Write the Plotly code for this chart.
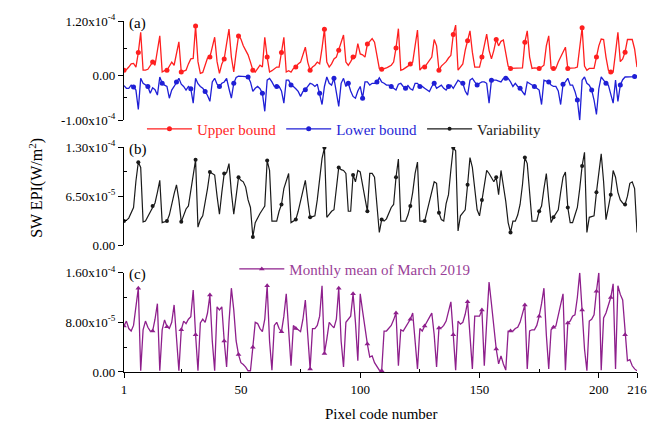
import plotly.graph_objects as go

# Values in units of 1e-5 W/m^2, pixel code 1..216
upper_bound = [
    1.1, 1.2, 1.8, 2.5, 2.6, 1.8, 5.0, 9.5, 1.1, 1.1,
    1.3, 2.0, 2.9, 2.2, 5.0, 8.7, 0.7, 1.0, 1.1, 2.0,
    2.9, 2.2, 5.0, 7.4, 0.7, 0.9, 1.1, 2.5, 3.6, 3.7,
    10.9, 3.0, 0.4, 0.6, 2.0, 3.8, 4.0, 6.0, 8.4, 3.0,
    0.4, 2.5, 3.6, 7.0, 10.2, 4.0, 0.7, 5.0, 8.7, 8.0,
    6.5, 5.5, 4.5, 2.9, 1.1, 0.7, 1.5, 2.2, 1.8, 8.4,
    4.0, 0.7, 1.0, 1.5, 1.8, 1.8, 5.0, 8.4, 0.7, 1.0,
    0.7, 1.5, 1.8, 2.5, 2.9, 4.5, 6.2, 2.9, 1.1, 1.8,
    2.2, 2.9, 2.5, 6.0, 10.2, 2.9, 1.8, 2.5, 3.6, 4.0,
    5.5, 7.5, 8.9, 2.9, 2.2, 3.0, 4.0, 4.0, 7.0, 4.7,
    4.5, 4.0, 6.9, 7.5, 8.1, 7.3, 4.0, 1.5, 1.3, 1.4,
    1.6, 1.9, 2.2, 2.9, 6.0, 10.3, 1.1, 1.3, 1.6, 2.0,
    2.5, 2.9, 6.5, 10.0, 1.1, 1.8, 1.8, 2.5, 3.3, 4.0,
    7.9, 6.5, 1.1, 2.0, 2.5, 3.0, 3.8, 4.4, 9.0, 11.1,
    1.1, 1.8, 2.5, 5.5, 7.6, 9.8, 5.1, 1.8, 1.8, 1.8,
    4.0, 6.5, 9.1, 5.5, 3.6, 5.5, 7.9, 6.5, 7.5, 7.8,
    5.1, 2.0, 1.5, 1.5, 1.5, 1.5, 1.5, 1.6, 7.3, 9.8,
    4.0, 1.5, 1.6, 1.5, 1.5, 1.8, 2.2, 6.5, 8.7, 1.5,
    1.5, 1.5, 2.9, 4.0, 5.1, 6.2, 1.5, 1.5, 1.5, 1.6,
    1.8, 6.0, 10.5, 2.0, 1.1, 1.5, 1.5, 1.5, 4.0, 6.5,
    8.0, 7.9, 4.0, 1.1, 0.7, 0.7, 5.0, 9.5, 3.0, 3.6,
    5.1, 7.9, 7.9, 7.9, 5.8, 1.8,
]

lower_bound = [
    -2.3, -2.9, -2.9, -2.2, -2.6, -3.3, -7.6, -0.7, -1.8, -2.2,
    -2.5, -4.0, -2.8, -3.2, -4.4, -0.4, -1.8, -2.2, -2.5, -5.1,
    -3.3, -2.5, -1.5, -0.7, -2.0, -2.5, -3.3, -2.5, -3.0, -6.2,
    -0.7, -1.9, -2.5, -2.9, -3.6, -4.5, -5.8, -1.5, -0.7, -2.0,
    -2.5, -1.8, -1.5, -0.7, -3.0, -5.1, -1.8, -0.5, -0.2, -0.2,
    -0.2, -0.3, -0.4, -1.5, -3.6, -2.9, -2.5, -3.0, -4.0, -8.0,
    -1.1, -0.7, -1.5, -2.5, -2.5, -2.5, -3.5, -6.2, -1.1, -1.1,
    -2.2, -2.5, -3.0, -3.6, -4.7, -3.6, -3.2, -2.5, -1.8, -2.0,
    -2.5, -2.0, -4.0, -6.5, -2.5, -0.4, -1.8, -2.2, -0.7, -3.6,
    -6.9, -1.8, -0.7, -2.5, -1.8, -3.5, -4.7, -5.1, -3.5, -2.5,
    -5.1, -1.5, -1.5, -2.2, -1.8, -1.8, -1.5, -0.6, -1.5, -1.8,
    -2.2, -2.2, -2.5, -2.9, -3.3, -2.0, -1.8, -2.5, -2.9, -2.3,
    -3.0, -3.3, -1.8, -1.8, -2.5, -2.5, -2.9, -3.3, -3.6, -2.5,
    -1.8, -2.9, -2.5, -2.2, -2.9, -3.3, -2.5, -2.2, -2.9, -2.0,
    -1.1, -1.5, -1.8, -3.5, -4.4, -1.1, -0.7, -1.5, -2.2, -1.8,
    -1.5, -1.5, -1.8, -6.2, -1.1, -1.1, -1.1, -1.3, -1.5, -0.7,
    -0.7, -0.7, -1.5, -2.5, -1.8, -2.5, -2.9, -3.6, -4.4, -1.5,
    -1.8, -2.2, -2.5, -2.9, -3.3, -6.5, -1.1, -1.3, -1.5, -2.2,
    -2.5, -2.5, -3.5, -6.5, -2.0, -1.5, -0.7, -2.2, -2.2, -3.6,
    -5.5, -10.0, -1.1, -0.4, -1.8, -2.2, -3.3, -5.5, -8.7, -3.0,
    -0.4, -1.1, -1.8, -2.2, -4.0, -6.2, -1.1, -5.8, -2.2, -1.0,
    -0.4, -0.4, -0.4, -0.4, -0.3, -0.2,
]

variability = [
    3.2, 3.3, 3.6, 4.3, 5.0, 8.5, 11.0, 10.3, 3.1, 3.2,
    3.8, 4.5, 5.2, 5.6, 7.0, 8.6, 3.0, 3.1, 3.2, 4.0,
    5.6, 6.8, 8.0, 6.0, 3.1, 4.0, 4.8, 5.2, 7.1, 9.0,
    11.3, 2.4, 3.4, 3.9, 5.5, 7.5, 9.7, 9.5, 9.3, 6.5,
    4.1, 7.0, 9.5, 9.6, 10.8, 7.0, 4.1, 6.5, 9.0, 8.6,
    8.4, 7.7, 6.0, 5.0, 1.1, 3.0, 3.7, 4.2, 4.7, 5.2,
    11.2, 9.9, 3.2, 3.2, 3.2, 4.5, 5.4, 7.5, 8.5, 9.5,
    3.0, 3.2, 3.4, 4.5, 6.0, 7.5, 8.6, 6.0, 3.7, 3.8,
    3.9, 6.0, 9.0, 11.5, 12.9, 3.7, 4.1, 4.5, 4.7, 7.5,
    10.3, 10.0, 9.9, 9.5, 4.5, 4.5, 9.3, 8.4, 9.9, 9.7,
    8.0, 6.0, 4.5, 9.5, 9.5, 9.0, 5.0, 1.7, 3.4, 3.2,
    3.5, 4.3, 5.0, 5.4, 9.0, 11.4, 3.2, 3.2, 3.2, 4.0,
    5.2, 7.0, 9.5, 11.0, 3.2, 3.2, 3.2, 4.5, 5.8, 7.5,
    8.4, 8.2, 4.3, 3.4, 3.2, 5.5, 6.7, 10.0, 12.9, 12.5,
    1.9, 3.9, 4.3, 4.7, 8.0, 11.6, 10.3, 7.0, 4.7, 3.9,
    6.0, 8.0, 9.9, 9.5, 9.0, 8.4, 9.0, 6.7, 9.9, 8.0,
    5.8, 3.0, 1.7, 3.2, 3.2, 4.0, 5.4, 8.0, 11.6, 10.8,
    7.0, 3.2, 3.2, 3.2, 4.5, 5.2, 7.5, 9.5, 6.0, 3.0,
    3.7, 4.2, 4.7, 7.0, 9.0, 9.7, 5.0, 3.0, 3.0, 4.0,
    5.0, 7.5, 10.5, 12.3, 1.7, 3.7, 3.8, 3.9, 7.0, 10.0,
    12.1, 8.4, 3.4, 5.0, 6.7, 9.9, 9.0, 7.0, 6.0, 5.6,
    5.4, 6.5, 8.2, 8.4, 7.5, 1.7,
]

monthly_mean_march_2019 = [
    7.4, 8.2, 7.0, 6.6, 7.5, 10.5, 13.5, 0.2, 6.8, 8.2,
    7.2, 6.6, 6.6, 8.5, 11.0, 0.2, 6.8, 8.4, 7.3, 7.0,
    8.0, 10.8, 5.0, 0.2, 6.8, 8.2, 7.8, 8.5, 8.9, 13.2,
    6.0, 0.2, 7.9, 8.5, 8.0, 9.5, 12.4, 5.0, 0.2, 10.5,
    10.0, 10.5, 5.0, 0.8, 8.0, 13.5, 10.0, 5.0, 2.8, 1.5,
    1.2, 0.8, 0.2, 0.2, 4.0, 8.0, 7.8, 7.0, 6.5, 8.5,
    13.9, 5.0, 0.3, 7.5, 8.0, 7.0, 6.5, 9.0, 12.6, 6.0,
    1.0, 7.5, 7.0, 6.8, 6.5, 8.5, 11.6, 6.0, 0.5, 7.0,
    7.0, 7.5, 9.0, 13.9, 3.0, 5.3, 8.0, 7.5, 7.1, 8.5,
    13.5, 5.0, 0.8, 8.0, 8.5, 9.0, 12.6, 8.0, 1.8, 12.6,
    9.8, 7.0, 4.5, 2.4, 2.6, 1.5, 0.8, 0.3, 0.2, 6.6,
    6.6, 7.0, 7.5, 8.4, 9.5, 1.0, 6.8, 6.6, 7.2, 7.7,
    8.5, 9.5, 5.0, 0.5, 7.0, 6.6, 7.4, 8.0, 8.8, 9.5,
    6.0, 0.8, 7.1, 7.1, 7.5, 8.2, 9.8, 11.3, 6.0, 0.3,
    8.2, 7.7, 8.0, 9.3, 11.3, 6.0, 0.5, 9.0, 9.0, 9.0,
    10.0, 1.0, 8.0, 14.5, 11.0, 7.0, 3.7, 1.3, 2.6, 1.3,
    0.3, 6.6, 6.6, 6.6, 7.0, 7.2, 8.0, 9.5, 10.8, 0.5,
    6.6, 6.8, 6.8, 7.5, 9.0, 11.0, 13.5, 6.0, 0.5, 6.8,
    7.2, 7.4, 9.0, 11.0, 12.6, 0.3, 7.9, 8.2, 9.0, 9.2,
    12.0, 16.0, 10.0, 3.7, 0.2, 8.2, 8.5, 9.2, 13.0, 16.0,
    0.3, 8.7, 9.5, 10.8, 12.0, 14.2, 0.5, 13.9, 12.5, 11.6,
    6.0, 1.8, 2.0, 1.0, 0.5, 0.2,
]

pixel_code = list(range(1, len(upper_bound) + 1))
scale = 1e-5

x_tickvals = [1, 50, 100, 150, 200, 216]
x_ticktext = ["1", "50", "100", "150", "200", "216"]

ya_ticks = [-1.0e-4, 0.0, 1.2e-4]
ya_text = ["-1.00x10<sup>-4</sup>", "0.00", "1.20x10<sup>-4</sup>"]
yb_ticks = [0.0, 6.5e-5, 1.3e-4]
yb_text = ["0.00", "6.50x10<sup>-5</sup>", "1.30x10<sup>-4</sup>"]
yc_ticks = [0.0, 8.0e-5, 1.6e-4]
yc_text = ["0.00", "8.00x10<sup>-5</sup>", "1.60x10<sup>-4</sup>"]

FONT = "Liberation Serif"
RED = "#ff1f1f"
BLUE = "#1f1fd6"
BLACK = "#1a1a1a"
PURPLE = "#8e1f8c"
MAXMARK = 36

fig = go.Figure()
fig.add_trace(go.Scatter(
    x=pixel_code, y=[v * scale for v in upper_bound], mode="lines+markers",
    name="<span style='color:%s'>Upper bound</span>" % RED,
    line=dict(color=RED, width=1.3),
    marker=dict(color=RED, size=5, symbol="circle", maxdisplayed=MAXMARK),
    xaxis="x", yaxis="y", legend="legend"))
fig.add_trace(go.Scatter(
    x=pixel_code, y=[v * scale for v in lower_bound], mode="lines+markers",
    name="<span style='color:%s'>Lower bound</span>" % BLUE,
    line=dict(color=BLUE, width=1.3),
    marker=dict(color=BLUE, size=5, symbol="circle", maxdisplayed=MAXMARK),
    xaxis="x", yaxis="y", legend="legend"))
fig.add_trace(go.Scatter(
    x=pixel_code, y=[v * scale for v in variability], mode="lines+markers",
    name="<span style='color:%s'>Variability</span>" % BLACK,
    line=dict(color=BLACK, width=1.2),
    marker=dict(color=BLACK, size=4, symbol="circle", maxdisplayed=MAXMARK),
    xaxis="x2", yaxis="y2", legend="legend"))
fig.add_trace(go.Scatter(
    x=pixel_code, y=[v * scale for v in monthly_mean_march_2019], mode="lines+markers",
    name="<span style='color:#9a3f98'>Monthly mean of March 2019</span>",
    line=dict(color=PURPLE, width=1.3),
    marker=dict(color=PURPLE, size=5, symbol="triangle-up", maxdisplayed=MAXMARK),
    xaxis="x3", yaxis="y3", legend="legend2"))

axis_common = dict(showgrid=False, zeroline=False, showline=True, linecolor="black",
                   linewidth=1.3, tickcolor="black", tickwidth=1.2,
                   tickfont=dict(family=FONT, size=13, color="black"))

def yaxis(domain, rng, vals, text, minor_vals, anchor):
    d = dict(axis_common)
    d.update(domain=domain, range=rng, tickmode="array", tickvals=vals, ticktext=text,
             ticks="outside", ticklen=5, anchor=anchor,
             minor=dict(tickmode="array", tickvals=minor_vals, ticks="inside", ticklen=3,
                        tickcolor="black", tickwidth=1.2))
    return d

xhidden = dict(range=[1, 216], visible=False, showgrid=False, zeroline=False, domain=[0, 1])

xc = dict(axis_common)
xc.update(range=[1, 216], domain=[0, 1], anchor="y3", tickmode="array",
          tickvals=x_tickvals, ticktext=x_ticktext, ticks="outside", ticklen=5,
          minor=dict(tickmode="array", tickvals=[25, 75, 125, 175], ticks="inside",
                     ticklen=3, tickcolor="black", tickwidth=1.2))

fig.update_layout(
    width=659, height=429,
    margin=dict(l=124, r=12, t=15, b=57),
    paper_bgcolor="white", plot_bgcolor="white",
    font=dict(family=FONT, size=13, color="black"),
    xaxis=dict(xhidden, anchor="y"),
    xaxis2=dict(xhidden, anchor="y2"),
    xaxis3=xc,
    yaxis=yaxis([0.717, 1.0], [-1.0e-4, 1.2e-4], ya_ticks, ya_text, [-5e-5, 6e-5], "x"),
    yaxis2=yaxis([0.361, 0.641], [0, 1.3e-4], yb_ticks, yb_text, [3.25e-5, 9.75e-5], "x2"),
    yaxis3=yaxis([0.0, 0.283], [0, 1.6e-4], yc_ticks, yc_text, [4e-5, 1.2e-4], "x3"),
    legend=dict(orientation="h", x=0.035, y=0.692, xanchor="left", yanchor="middle",
                bgcolor="rgba(0,0,0,0)", font=dict(family=FONT, size=15),
                itemwidth=45, tracegroupgap=0),
    legend2=dict(orientation="h", x=0.215, y=0.293, xanchor="left", yanchor="middle",
                 bgcolor="rgba(0,0,0,0)", font=dict(family=FONT, size=15),
                 itemwidth=45),
    showlegend=True,
)

annotations = [
    dict(text="(a)", x=0.005, y=1.0, xref="paper", yref="paper", xanchor="left",
         yanchor="middle", showarrow=False, yshift=-2, font=dict(family=FONT, size=15)),
    dict(text="(b)", x=0.005, y=0.641, xref="paper", yref="paper", xanchor="left",
         yanchor="middle", showarrow=False, yshift=-2, font=dict(family=FONT, size=15)),
    dict(text="(c)", x=0.005, y=0.283, xref="paper", yref="paper", xanchor="left",
         yanchor="middle", showarrow=False, yshift=-2, font=dict(family=FONT, size=15)),
    dict(text="SW EPI(W/m<sup>2</sup>)", x=-0.172, y=0.524, xref="paper", yref="paper",
         textangle=-90, showarrow=False, xanchor="center", yanchor="middle",
         font=dict(family=FONT, size=16)),
    dict(text="Pixel code number", x=0.5, y=-0.12, xref="paper", yref="paper",
         showarrow=False, xanchor="center", yanchor="middle",
         font=dict(family=FONT, size=15)),
]
fig.update_layout(annotations=annotations)

fig.write_html("out.html")
